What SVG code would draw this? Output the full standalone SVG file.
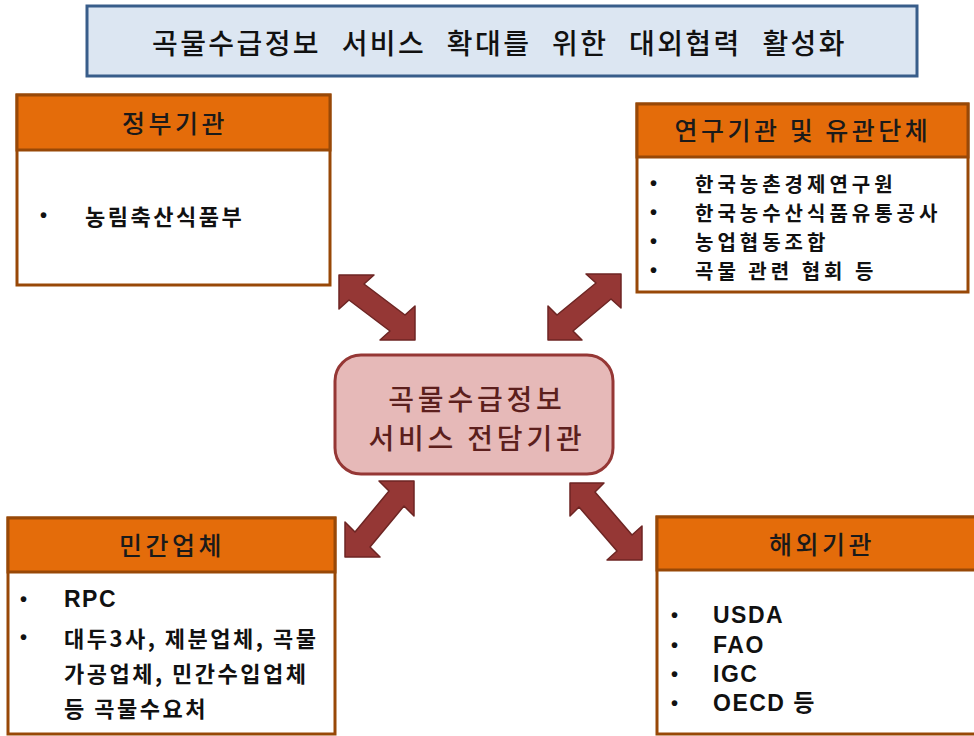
<svg xmlns="http://www.w3.org/2000/svg" width="974" height="736" viewBox="0 0 974 736">
<style>
.hdr{fill:#E46C0A;stroke:#984807;stroke-width:3}
.body{fill:#ffffff;stroke:#984807;stroke-width:3}
.ht{font-family:"Noto Sans CJK KR",sans-serif;font-size:25px;font-weight:500;fill:#1a1a1a;text-anchor:middle;dominant-baseline:central;letter-spacing:3.5px}
.it{font-family:"Noto Sans CJK KR",sans-serif;font-size:22px;font-weight:bold;fill:#111;dominant-baseline:central;letter-spacing:2.5px}
.ir{font-family:"Noto Sans CJK KR",sans-serif;font-size:20px;font-weight:bold;fill:#111;dominant-baseline:central;letter-spacing:4px}
.en{font-family:"Liberation Sans","Noto Sans CJK KR",sans-serif;font-size:23px;font-weight:bold;fill:#111;dominant-baseline:central;letter-spacing:1.5px}
.bl{font-family:"Liberation Sans",sans-serif;font-size:20px;font-weight:bold;fill:#111;dominant-baseline:central}
.arr{fill:#953735;stroke:#6d2523;stroke-width:1.5;stroke-linejoin:round}
.ct{font-family:"Noto Sans CJK KR",sans-serif;font-size:28px;font-weight:500;fill:#5c1f1d;text-anchor:middle;dominant-baseline:central;letter-spacing:3.8px}
</style>
<rect width="974" height="736" fill="#ffffff"/>
<g id="title">
<rect x="87" y="6" width="830" height="70" fill="#DCE6F2" stroke="#385D8A" stroke-width="3"/>
<text x="152" y="42" font-family="Noto Sans CJK KR, sans-serif" font-size="28" font-weight="500" letter-spacing="2.4" word-spacing="12" fill="#111" dominant-baseline="central">곡물수급정보 서비스 확대를 위한 대외협력 활성화</text>
</g>
<g id="connectors">
<polygon class="arr" points="339,275 374,275 364,284 405,315 415,306 415,340 380,340 390,331 349,300 339,309"/>
<polygon class="arr" points="621,274 621,308 611,299 573,331 582,340 548,340 548,306 557,315 596,283 586,274"/>
<polygon class="arr" points="414,481 414,516 404,506 370,547 380,557 345,557 345,522 355,532 389,491 379,481"/>
<polygon class="arr" points="570,483 604,483 595,492 632,535 642,526 642,560 607,560 617,551 579,507 570,516"/>
</g>
<g id="gov">
<rect class="body" x="17" y="95" width="313" height="190"/>
<rect class="hdr" x="17" y="95" width="313" height="55"/>
<text class="ht" x="175" y="122">정부기관</text>
<text class="bl" x="40" y="215">•</text>
<text class="it" x="85" y="215">농림축산식품부</text>
</g>
<g id="research">
<rect class="body" x="637" y="104" width="331" height="188"/>
<rect class="hdr" x="637" y="104" width="331" height="53"/>
<text class="ht" x="803" y="129">연구기관 및 유관단체</text>
<text class="bl" x="650" y="183">•</text>
<text class="ir" x="695" y="183">한국농촌경제연구원</text>
<text class="bl" x="650" y="212">•</text>
<text class="ir" x="695" y="212">한국농수산식품유통공사</text>
<text class="bl" x="650" y="241">•</text>
<text class="ir" x="695" y="241">농업협동조합</text>
<text class="bl" x="650" y="270">•</text>
<text class="ir" x="695" y="270">곡물 관련 협회 등</text>
</g>
<g id="center">
<rect x="335" y="355" width="278" height="119" rx="26" ry="26" fill="#E6B9B8" stroke="#953735" stroke-width="3"/>
<text class="ct" x="477" y="398">곡물수급정보</text>
<text class="ct" x="477" y="437">서비스 전담기관</text>
</g>
<g id="private">
<rect class="body" x="8" y="518" width="327" height="216"/>
<rect class="hdr" x="8" y="518" width="327" height="54"/>
<text class="ht" x="172" y="544">민간업체</text>
<text class="bl" x="20" y="599">•</text>
<text class="en" x="64" y="599" font-size="21">RPC</text>
<text class="bl" x="20" y="637">•</text>
<text class="it" x="64" y="637">대두3사, 제분업체, 곡물</text>
<text class="it" x="64" y="672">가공업체, 민간수입업체</text>
<text class="it" x="64" y="707">등 곡물수요처</text>
</g>
<g id="foreign">
<rect class="body" x="657" y="517" width="330" height="217"/>
<rect class="hdr" x="657" y="517" width="330" height="53"/>
<text class="ht" x="822" y="543">해외기관</text>
<text class="bl" x="671" y="615">•</text>
<text class="en" x="713" y="615">USDA</text>
<text class="bl" x="671" y="645">•</text>
<text class="en" x="713" y="645">FAO</text>
<text class="bl" x="671" y="674">•</text>
<text class="en" x="713" y="674">IGC</text>
<text class="bl" x="671" y="703">•</text>
<text class="en" x="713" y="703">OECD 등</text>
</g>
</svg>
